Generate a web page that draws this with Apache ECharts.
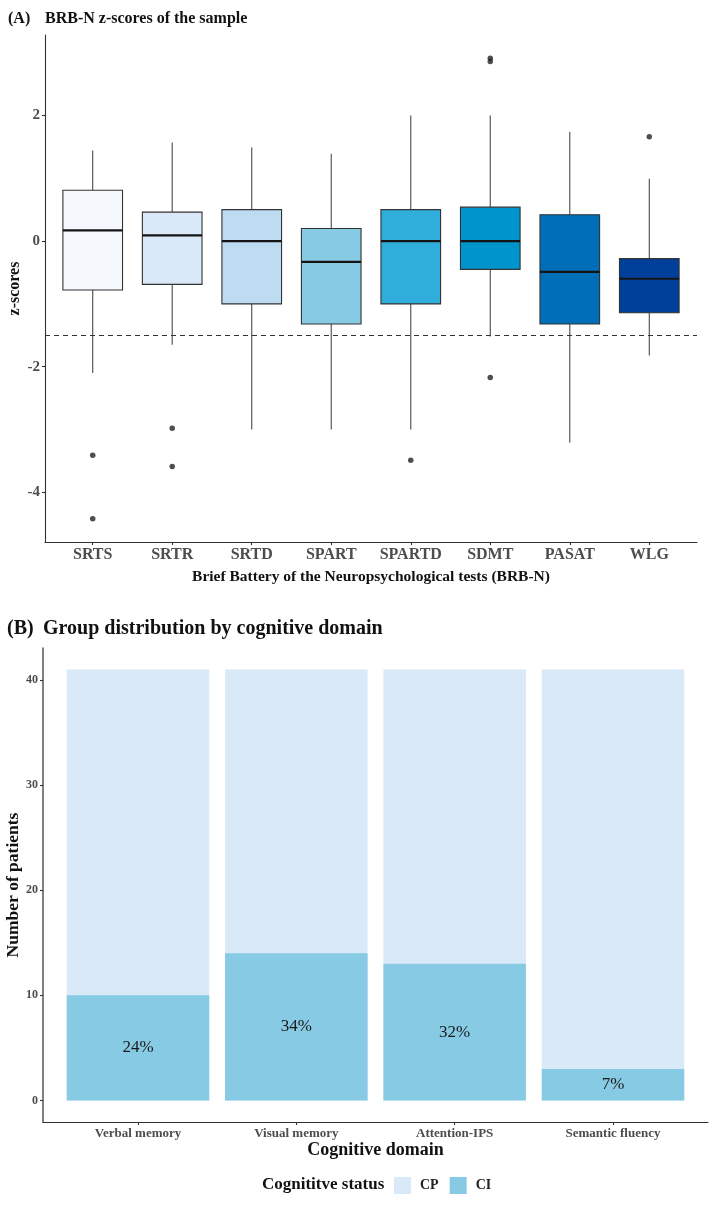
<!DOCTYPE html>
<html><head><meta charset="utf-8">
<script src="https://cdn.jsdelivr.net/npm/echarts@6/dist/echarts.min.js"></script>
<style>html,body{margin:0;padding:0;background:#fff}#c{width:717px;height:1205px}</style>
</head><body><div id="c"></div>
<script>
// ---- Panel A data (z-scores) ----
const tests = ['SRTS','SRTR','SRTD','SPART','SPARTD','SDMT','PASAT','WLG'];
const whiskerLow  = [-2.10,-1.65,-3.00,-3.00,-3.00,-1.52,-3.21,-1.82];
const q1          = [-0.78,-0.69,-1.00,-1.32,-1.00,-0.45,-1.32,-1.14];
const median      = [ 0.17, 0.09, 0.00,-0.33, 0.00, 0.00,-0.49,-0.60];
const q3          = [ 0.81, 0.46, 0.50, 0.20, 0.50, 0.54, 0.42,-0.28];
const whiskerHigh = [ 1.44, 1.57, 1.49, 1.39, 2.00, 2.00, 1.74, 0.99];
const outliers = [[-3.41,-4.42],[-2.98,-3.59],[],[],[-3.49],[2.86,2.91,-2.17],[],[1.66]];
const cutoff = -1.5;
const yTicksA = [-4,-2,0,2];

// ---- Panel B data (counts) ----
const domains = ['Verbal memory','Visual memory','Attention-IPS','Semantic fluency'];
const ciCounts = [10,14,13,3];
const cpCounts = [31,27,28,38];
const yTicksB = [0,10,20,30,40];

const boxColors = ['#F5F9FE','#DAE9F8','#BDDBF1','#87CAE4','#2FAEDC','#0094CC','#006FB8','#00409A'];
const FONT = "'Liberation Serif', 'DejaVu Serif', serif";

const boxData = tests.map((t,i)=>[i+1, whiskerLow[i], q1[i], median[i], q3[i], whiskerHigh[i]]);
const outlierData = [];
outliers.forEach((arr,i)=>arr.forEach(v=>outlierData.push([i+1, v])));
const posA = tests.map((t,i)=>i+1);
const posB = domains.map((d,i)=>i+1);

const chart = echarts.init(document.getElementById('c'), null, {renderer:'canvas'});
const axisLineStyle = {color:'#333', width:1.1};
const labelStyle = (size)=>({fontFamily:FONT, fontWeight:'bold', fontSize:size, color:'#4D4D4D'});

chart.setOption({
  backgroundColor:'#fff',
  animation:false,
  grid:[
    {left:45, top:35, width:652, height:507, outerBoundsMode:'none', containLabel:false},
    {left:43, top:648, width:665, height:474, outerBoundsMode:'none', containLabel:false}
  ],
  graphic:[
    {type:'text', left:8, top:11, style:{text:'(A)', font:"bold 16px "+FONT, fill:'#111'}},
    {type:'text', left:45, top:11, style:{text:'BRB-N z-scores of the sample', font:"bold 16px "+FONT, fill:'#111'}},
    {type:'text', left:7, top:619, style:{text:'(B)', font:"bold 20px "+FONT, fill:'#111'}},
    {type:'text', left:43, top:619, style:{text:'Group distribution by cognitive domain', font:"bold 20px "+FONT, fill:'#111'}},
    {type:'text', left:262, top:1176, style:{text:'Cognititve status', font:"bold 17px "+FONT, fill:'#111'}}
  ],
  legend:{
    data:['CP','CI'], left:394, top:1177, padding:0, itemWidth:17, itemHeight:17, itemGap:11, icon:'rect',
    textStyle:{fontFamily:FONT, fontWeight:'bold', fontSize:14, color:'#222', padding:[0,0,0,4]}
  },
  xAxis:[
    {type:'value', gridIndex:0, min:0.4, max:8.6,
     axisLine:{show:true, onZero:false, lineStyle:axisLineStyle},
     axisTick:{show:true, customValues:posA, length:3, lineStyle:axisLineStyle},
     axisLabel:Object.assign({customValues:posA, margin:5, formatter:v=>tests[Math.round(v)-1]}, labelStyle(16)),
     splitLine:{show:false},
     name:'Brief Battery of the Neuropsychological tests (BRB-N)', nameLocation:'middle', nameGap:27, nameMoveOverlap:false,
     nameTextStyle:{fontFamily:FONT, fontWeight:'bold', fontSize:15.5, color:'#111'}},
    {type:'value', gridIndex:1, min:0.4, max:4.6,
     axisLine:{show:true, onZero:false, lineStyle:axisLineStyle},
     axisTick:{show:true, customValues:posB, length:3, lineStyle:axisLineStyle},
     axisLabel:Object.assign({customValues:posB, margin:5, formatter:v=>domains[Math.round(v)-1]}, labelStyle(13)),
     splitLine:{show:false},
     name:'Cognitive domain', nameLocation:'middle', nameGap:19, nameMoveOverlap:false,
     nameTextStyle:{fontFamily:FONT, fontWeight:'bold', fontSize:18, color:'#111'}}
  ],
  yAxis:[
    {type:'value', gridIndex:0, min:-4.79, max:3.28,
     axisLine:{show:true, onZero:false, lineStyle:axisLineStyle},
     axisTick:{show:true, customValues:yTicksA, length:3, lineStyle:axisLineStyle},
     axisLabel:Object.assign({customValues:yTicksA, margin:5}, labelStyle(15)),
     splitLine:{show:false},
     name:'z-scores', nameLocation:'middle', nameGap:22, nameMoveOverlap:false,
     nameTextStyle:{fontFamily:FONT, fontWeight:'bold', fontSize:16, color:'#111'}},
    {type:'value', gridIndex:1, min:-2.05, max:43.05,
     axisLine:{show:true, onZero:false, lineStyle:{color:'#555', width:1.5}},
     axisTick:{show:true, customValues:yTicksB, length:3, lineStyle:axisLineStyle},
     axisLabel:Object.assign({customValues:yTicksB, margin:5}, labelStyle(12)),
     splitLine:{show:false},
     name:'Number of patients', nameLocation:'middle', nameGap:21, nameMoveOverlap:false,
     nameTextStyle:{fontFamily:FONT, fontWeight:'bold', fontSize:17.5, color:'#111'}}
  ],
  series:[
    {type:'custom', name:'box', xAxisIndex:0, yAxisIndex:0, data:boxData,
     encode:{x:0, y:[1,2,3,4,5]},
     renderItem:function(params, api){
       const x = api.value(0);
       const lo = api.coord([x, api.value(1)]);
       const b1 = api.coord([x, api.value(2)]);
       const md = api.coord([x, api.value(3)]);
       const b3 = api.coord([x, api.value(4)]);
       const hi = api.coord([x, api.value(5)]);
       const w = api.size([0.75, 0])[0];
       return {type:'group', children:[
         {type:'line', shape:{x1:lo[0], y1:lo[1], x2:b1[0], y2:b1[1]}, style:{stroke:'#4a4a4a', lineWidth:1.1}},
         {type:'line', shape:{x1:b3[0], y1:b3[1], x2:hi[0], y2:hi[1]}, style:{stroke:'#4a4a4a', lineWidth:1.1}},
         {type:'rect', shape:{x:b1[0]-w/2, y:b3[1], width:w, height:b1[1]-b3[1]},
          style:{fill:boxColors[params.dataIndex], stroke:'#333', lineWidth:1.1}},
         {type:'line', shape:{x1:md[0]-w/2, y1:md[1], x2:md[0]+w/2, y2:md[1]}, style:{stroke:'#141414', lineWidth:2.2}}
       ]};
     }},
    {type:'scatter', name:'outliers', xAxisIndex:0, yAxisIndex:0, data:outlierData,
     symbolSize:5.5, itemStyle:{color:'#222'},
     markLine:{silent:true, symbol:['none','none'], label:{show:false},
       lineStyle:{color:'#333', width:1.2, type:[5,4]},
       data:[{yAxis:cutoff}]}},
    {type:'bar', name:'CP', xAxisIndex:1, yAxisIndex:1, barWidth:'90%', barGap:'-100%',
     data:cpCounts.map((v,i)=>[i+1, v + ciCounts[i]]),
     itemStyle:{color:'#DAE9F8'}},
    {type:'bar', name:'CI', xAxisIndex:1, yAxisIndex:1, barWidth:'90%', barGap:'-100%',
     data:ciCounts.map((v,i)=>[i+1, v]),
     itemStyle:{color:'#87CAE4'},
     label:{show:true, position:'inside', fontFamily:FONT, fontSize:17, color:'#1a1a1a',
       formatter:p=>Math.round(ciCounts[p.dataIndex]/(ciCounts[p.dataIndex]+cpCounts[p.dataIndex])*100)+'%'}}
  ]
});
</script></body></html>
